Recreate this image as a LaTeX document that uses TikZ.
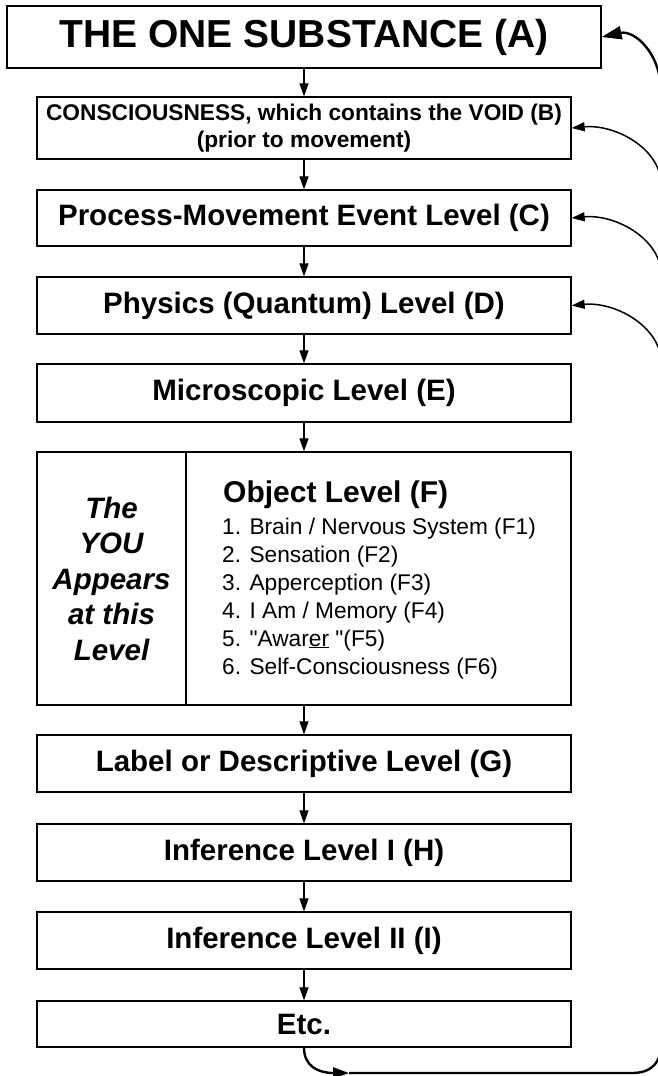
\documentclass[tikz,border=0pt]{standalone}
\usepackage{fontspec}
\setmainfont{Liberation Sans}
\newfontfamily\plainfont{Liberation Sans}
\usetikzlibrary{arrows.meta}
\begin{document}
\begin{tikzpicture}[x=1pt,y=-1pt,
  box/.style={draw, line width=1.3pt, inner sep=0pt, font=\fontsize{29.5}{34}\selectfont\bfseries},
  itemtxt/.style={anchor=base west, inner sep=0pt, font=\plainfont\fontsize{22.7}{27}\selectfont},
  varr/.style={-{Triangle[length=13pt,width=9pt]}, line width=1.2pt},
  loopline/.style={line width=2.4pt},
  branch/.style={line width=1.5pt, -{Triangle[length=13pt,width=9pt]}},
]
\useasboundingbox (0,0) rectangle (657,1076);
\fill[white] (0,0) rectangle (657,1076);

\node[box, minimum width=594pt, minimum height=62pt, font=\fontsize{39}{44}\selectfont\bfseries] (A) at (304,37) {THE ONE SUBSTANCE (A)};
\node[box, minimum width=534pt, minimum height=62pt, align=center, font=\fontsize{22.7}{27}\selectfont\bfseries] (B) at (304,128) {CONSCIOUSNESS, which contains the VOID (B)\\(prior to movement)};
\node[box, minimum width=534pt, minimum height=56pt] (C) at (304,218) {Process-Movement Event Level (C)};
\node[box, minimum width=534pt, minimum height=57pt] (D) at (304,305.5) {Physics (Quantum) Level (D)};
\node[box, minimum width=534pt, minimum height=58pt] (E) at (304,393) {Microscopic Level (E)};
\node[box, minimum width=149pt, minimum height=253pt] (FL) at (111.5,578.5) {};
\node[box, minimum width=385pt, minimum height=253pt] (FR) at (378.5,578.5) {};
\node[box, minimum width=534pt, minimum height=57pt] (G) at (304,763.5) {Label or Descriptive Level (G)};
\node[box, minimum width=534pt, minimum height=57pt] (H) at (304,852.5) {Inference Level I (H)};
\node[box, minimum width=534pt, minimum height=57pt] (I) at (304,940.5) {Inference Level II (I)};
\node[box, minimum width=534pt, minimum height=46pt] (Etc) at (304,1024) {Etc.};

\node[align=center, inner sep=0pt, font=\fontsize{29.5}{35.5}\selectfont\bfseries\itshape] (Ft) at (FL.center) {The\\YOU\\Appears\\at this\\Level};
\node[anchor=base west, inner sep=0pt, font=\fontsize{30}{34}\selectfont\bfseries] (F0) at (223,502) {Object Level (F)};
\node[itemtxt] (F1) at (222,534) {1. Brain / Nervous System (F1)};
\node[itemtxt] (F2) at (222,562) {2. Sensation (F2)};
\node[itemtxt] (F3) at (222,590) {3. Apperception (F3)};
\node[itemtxt] (F4) at (222,618) {4. I Am / Memory (F4)};
\node[itemtxt] (F5) at (222,646) {5. "Awar\underline{er} "(F5)};
\node[itemtxt] (F6) at (222,674) {6. Self-Consciousness (F6)};

\draw[varr] (A) -- (B);
\draw[varr] (B) -- (C);
\draw[varr] (C) -- (D);
\draw[varr] (D) -- (E);
\draw[varr] (E.south) -- (E.south |- FR.north);
\draw[varr] (FR.south -| G.north) -- (G.north);
\draw[varr] (G) -- (H);
\draw[varr] (H) -- (I);
\draw[varr] (I) -- (Etc);

\coordinate (tipL) at (349,1073);
\coordinate (cornerL) at (632,1073);
\coordinate (upR) at (661,1045);
\coordinate (jA) at (661,90);
\coordinate (jB) at (661,182);
\coordinate (jC) at (661,272);
\coordinate (jD) at (661,360);

\draw[loopline, -{Triangle[length=16pt,width=11pt]}] (Etc.south) .. controls (304,1066) and (318,1073) .. (tipL);
\draw[loopline, -{Triangle[length=20pt,width=13pt]}] (tipL) -- (cornerL) .. controls (652,1073) and (661,1062) .. (upR) -- (jA) .. controls (660,52) and (634,30) .. (A.east);
\draw[branch] (jB) .. controls (659,148) and (615,124) .. (B.east);
\draw[branch] (jC) .. controls (659,238) and (615,214) .. (C.east);
\draw[branch] (jD) .. controls (659,326) and (615,301.5) .. (D.east);
\end{tikzpicture}
\end{document}
